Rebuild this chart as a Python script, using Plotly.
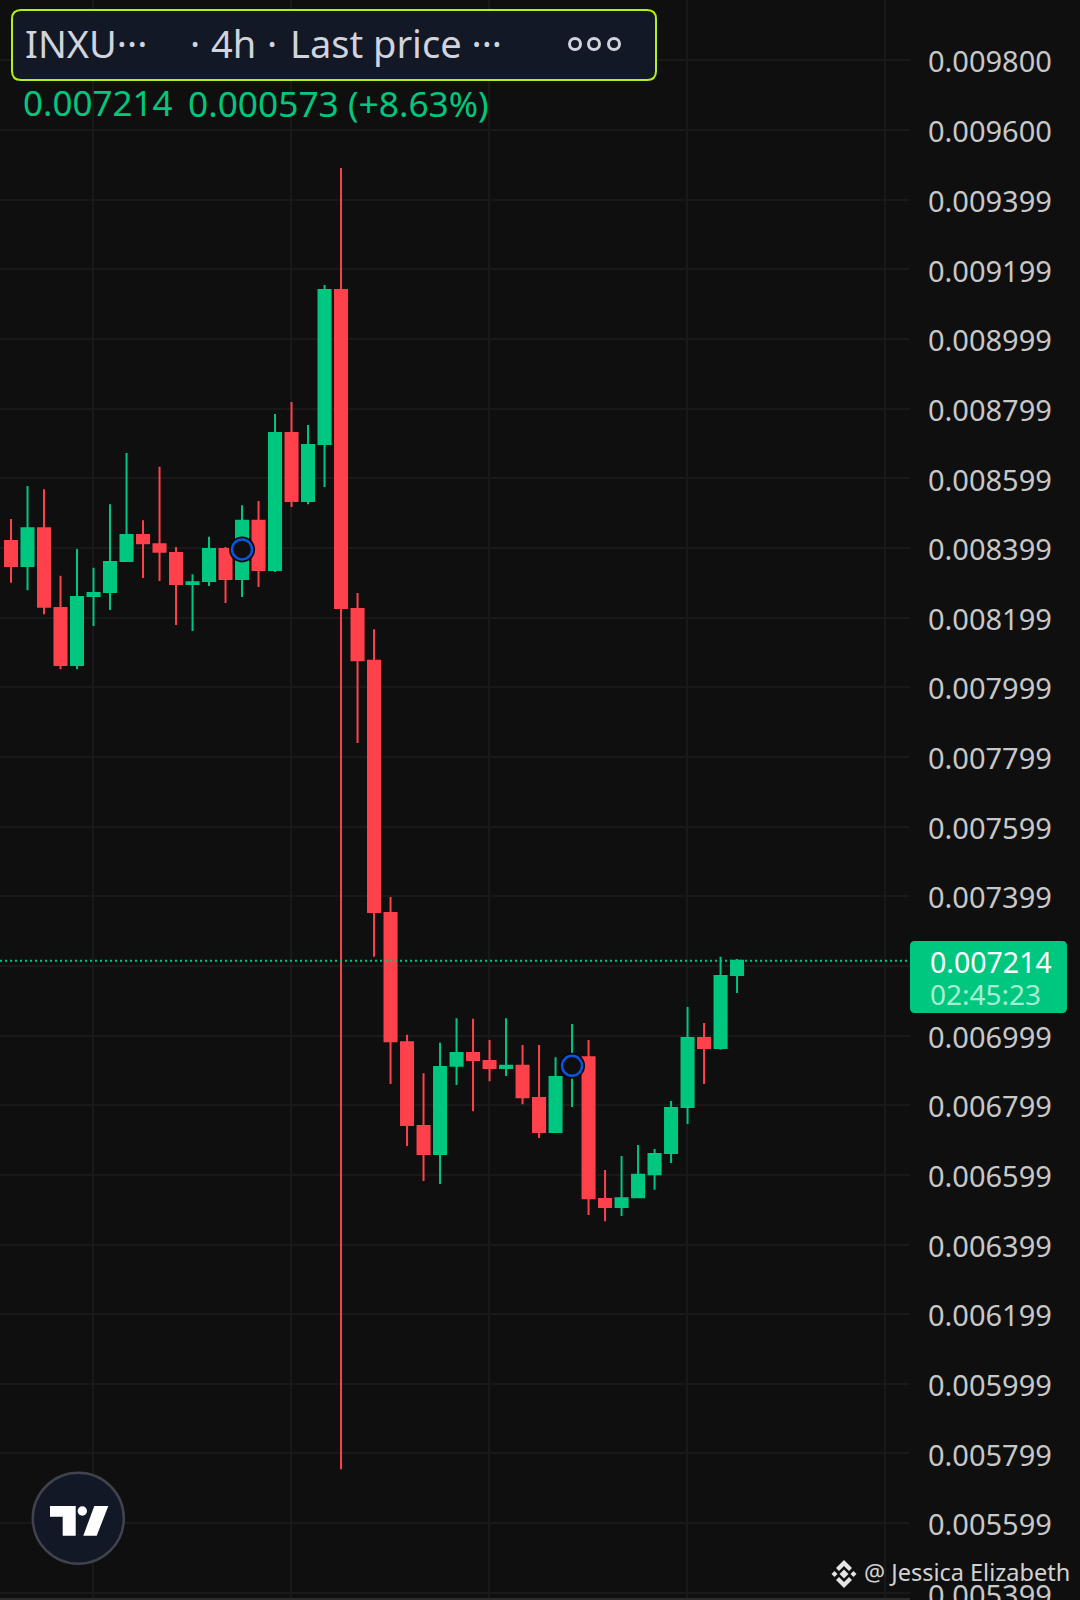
import plotly.graph_objs as go

# Candles
candle_index = list(range(45))
opens = [0.008419, 0.008347, 0.008456, 0.008227, 0.008063, 0.008261, 0.008273, 0.008362, 0.008436,
         0.008410, 0.008385, 0.008296, 0.008304, 0.008396, 0.008310, 0.008477, 0.008336, 0.008729,
         0.008534, 0.008698, 0.009140, 0.008224, 0.008075, 0.007351, 0.006980, 0.006739, 0.006659,
         0.006912, 0.006949, 0.006926, 0.006906, 0.006912, 0.006820, 0.006722, 0.006906, 0.006937,
         0.006530, 0.006507, 0.006535, 0.006601, 0.006662, 0.006794, 0.006992, 0.006963, 0.007173]
highs = [0.008482, 0.008577, 0.008568, 0.008319, 0.008396, 0.008342, 0.008525, 0.008672, 0.008479,
         0.008632, 0.008402, 0.008324, 0.008431, 0.008402, 0.008522, 0.008534, 0.008784, 0.008818,
         0.008752, 0.009154, 0.009490, 0.008270, 0.008166, 0.007397, 0.007001, 0.006891, 0.006978,
         0.007049, 0.007047, 0.006986, 0.007049, 0.006972, 0.006972, 0.006937, 0.007032, 0.006986,
         0.006613, 0.006653, 0.006685, 0.006673, 0.006811, 0.007081, 0.007035, 0.007225, 0.007219]
lows = [0.008299, 0.008278, 0.008209, 0.008051, 0.008051, 0.008175, 0.008221, 0.008362, 0.008313,
        0.008304, 0.008178, 0.008161, 0.008290, 0.008241, 0.008258, 0.008287, 0.008330, 0.008517,
        0.008525, 0.008574, 0.005754, 0.007839, 0.007225, 0.006860, 0.006682, 0.006581, 0.006573,
        0.006857, 0.006782, 0.006868, 0.006883, 0.006802, 0.006705, 0.006722, 0.006794, 0.006484,
        0.006466, 0.006481, 0.006535, 0.006556, 0.006633, 0.006745, 0.006860, 0.006958, 0.007121]
closes = [0.008347, 0.008456, 0.008230, 0.008063, 0.008258, 0.008270, 0.008359, 0.008436, 0.008413,
          0.008388, 0.008296, 0.008301, 0.008396, 0.008310, 0.008477, 0.008336, 0.008729, 0.008534,
          0.008695, 0.009140, 0.008227, 0.008077, 0.007354, 0.006983, 0.006742, 0.006659, 0.006909,
          0.006949, 0.006929, 0.006906, 0.006912, 0.006822, 0.006722, 0.006880, 0.006917, 0.006532,
          0.006507, 0.006532, 0.006599, 0.006659, 0.006791, 0.006992, 0.006963, 0.007170, 0.007214]

# Blue ring markers
ring_index = [14, 34]
ring_price = [0.008395, 0.006912]

# Axis ticks
price_ticks = [0.009800, 0.009600, 0.009399, 0.009199, 0.008999, 0.008799, 0.008599, 0.008399,
               0.008199, 0.007999, 0.007799, 0.007599, 0.007399, 0.007199, 0.006999, 0.006799,
               0.006599, 0.006399, 0.006199, 0.005999, 0.005799, 0.005599, 0.005399]
price_labels = ['0.009800', '0.009600', '0.009399', '0.009199', '0.008999', '0.008799', '0.008599',
                '0.008399', '0.008199', '0.007999', '0.007799', '0.007599', '0.007399', '',
                '0.006999', '0.006799', '0.006599', '0.006399', '0.006199', '0.005999', '0.005799',
                '0.005599', '']
time_ticks = [4.95, 16.95, 28.95, 40.95, 52.95]
last_price = 0.007214

BG = '#0f0f0f'
GRID = '#191919'
GREEN = '#00c77f'
RED = '#ff414c'
LABEL = '#c8c8c8'
FONT = 'Noto Sans'

# Plot area is 910 x 1600, everything right of it is the price scale
PLOT_W = 910
PLOT_H = 1600


def px(x):
    return x / PLOT_W


def py(y):
    return 1 - y / PLOT_H


def poly(points):
    return 'M ' + ' L '.join(f'{px(x)} {py(y)}' for x, y in points) + ' Z'


def round_rect(x0, y0, x1, y1, r):
    return (f'M {px(x0 + r)} {py(y0)} L {px(x1 - r)} {py(y0)} Q {px(x1)} {py(y0)} {px(x1)} {py(y0 + r)} '
            f'L {px(x1)} {py(y1 - r)} Q {px(x1)} {py(y1)} {px(x1 - r)} {py(y1)} '
            f'L {px(x0 + r)} {py(y1)} Q {px(x0)} {py(y1)} {px(x0)} {py(y1 - r)} '
            f'L {px(x0)} {py(y0 + r)} Q {px(x0)} {py(y0)} {px(x0 + r)} {py(y0)} Z')


def path_shape(path, fill, line='rgba(0,0,0,0)', width=0):
    return dict(type='path', xref='paper', yref='paper', path=path, fillcolor=fill,
                line=dict(color=line, width=width), layer='above')


def circle_shape(cx, cy, r, fill, line, width):
    return dict(type='circle', xref='paper', yref='paper', x0=px(cx - r), x1=px(cx + r),
                y0=py(cy + r), y1=py(cy - r), fillcolor=fill,
                line=dict(color=line, width=width), layer='above')


def text(x, y, s, size, color, height=None):
    return dict(xref='paper', yref='paper', x=px(x), y=py(y), text=s, showarrow=False,
                xanchor='left', yanchor='middle', borderpad=0, height=height,
                font=dict(family=FONT, size=size, color=color))


candles = go.Candlestick(x=candle_index, open=opens, high=highs, low=lows, close=closes,
                         whiskerwidth=0,
                         increasing=dict(line=dict(color=GREEN, width=2), fillcolor=GREEN),
                         decreasing=dict(line=dict(color=RED, width=2), fillcolor=RED))
ring_halo = go.Scatter(x=ring_index, y=ring_price, mode='markers',
                       marker=dict(size=26, color='#090909'))
rings = go.Scatter(x=ring_index, y=ring_price, mode='markers',
                   marker=dict(size=20, color=BG, line=dict(color='#0a55e0', width=2.5)))

shapes = [
    # last price line and tag
    dict(type='line', xref='paper', yref='y', x0=0, x1=1, y0=last_price, y1=last_price,
         line=dict(color=GREEN, width=2, dash='2px,3px'), layer='above'),
    path_shape(round_rect(910, 941, 1067, 1013, 5), GREEN),
    # header pill
    path_shape(round_rect(12, 10, 656, 80, 9), '#131826', '#b4f01c', 2),
    circle_shape(575, 44, 5.5, 'rgba(0,0,0,0)', '#d1d4dc', 3),
    circle_shape(594, 44, 5.5, 'rgba(0,0,0,0)', '#d1d4dc', 3),
    circle_shape(614, 44, 5.5, 'rgba(0,0,0,0)', '#d1d4dc', 3),
    # bottom edge
    dict(type='line', xref='paper', yref='paper', x0=0, x1=1, y0=py(1599), y1=py(1599),
         line=dict(color='#2c2c2e', width=2), layer='above'),
    # tradingview badge
    circle_shape(78.3, 1518.3, 45.5, '#131826', '#41434c', 2.5),
    path_shape(poly([(50, 1506), (75.7, 1506), (75.7, 1535.7), (62.7, 1535.7), (62.7, 1516.7), (50, 1516.7)]), 'white'),
    circle_shape(82.3, 1511, 4.7, 'white', 'white', 0),
    path_shape(poly([(94.3, 1506), (108.3, 1506), (96.7, 1535.7), (83.3, 1535.7)]), 'white'),
    # watermark diamonds
    path_shape(poly([(844, 1569.5), (848.5, 1574), (844, 1578.5), (839.5, 1574)]), '#e4e4e4'),
    path_shape(poly([(834.5, 1571), (837.5, 1574), (834.5, 1577), (831.5, 1574)]), '#e4e4e4'),
    path_shape(poly([(853.5, 1571), (856.5, 1574), (853.5, 1577), (850.5, 1574)]), '#e4e4e4'),
    path_shape(poly([(844, 1560), (852, 1568), (849, 1571), (844, 1566), (839, 1571), (836, 1568)]), '#e4e4e4'),
    path_shape(poly([(844, 1588), (852, 1580), (849, 1577), (844, 1582), (839, 1577), (836, 1580)]), '#e4e4e4'),
]

annotations = [
    text(24, 43, 'INXU···', 38, '#d1d4dc'),
    text(189, 43, '·', 38, '#d1d4dc'),
    text(210, 43, '4h', 38, '#d1d4dc'),
    text(266, 43, '·', 38, '#d1d4dc'),
    text(289, 43, 'Last price ···', 38, '#d1d4dc'),
    text(22, 103, '0.007214', 35, GREEN),
    text(187, 103, '0.000573 (+8.63%)', 35.3, GREEN),
    text(929, 962, '0.007214', 28.5, 'white', height=30),
    text(929, 994, '02:45:23', 28, '#a8eed4', height=30),
    # bottom tick label runs off the page, so it sits here rather than on the axis
    text(927, 1594, '0.005399', 29, LABEL),
    text(863, 1572, '@ Jessica Elizabeth', 23.5, '#d2d2d2'),
]

layout = go.Layout(width=1080, height=1600, margin=dict(l=0, r=170, t=0, b=0),
                   paper_bgcolor=BG, plot_bgcolor=BG, showlegend=False, hovermode=False,
                   boxgap=0.27, boxgroupgap=0, dragmode=False,
                   font=dict(family=FONT, color=LABEL),
                   xaxis=dict(range=[-0.667, 54.48], tickvals=time_ticks, showticklabels=False,
                              gridcolor=GRID, gridwidth=2, zeroline=False, showline=False,
                              ticks='', rangeslider=dict(visible=False)),
                   yaxis=dict(range=[0.0053782, 0.0099726], side='right', tickvals=price_ticks,
                              ticktext=price_labels, gridcolor=GRID, gridwidth=2, zeroline=False,
                              showline=False, ticks='', ticklabelstandoff=17, ticklabelshift=2,
                              tickfont=dict(family=FONT, size=29, color=LABEL)),
                   shapes=shapes, annotations=annotations)

fig = go.Figure(data=[candles, ring_halo, rings], layout=layout)
# the page default margin would push the chart 8px off
fig.write_html("out.html", config={'displayModeBar': False},
               post_script="document.body.style.margin='0';document.body.style.overflow='hidden';")
